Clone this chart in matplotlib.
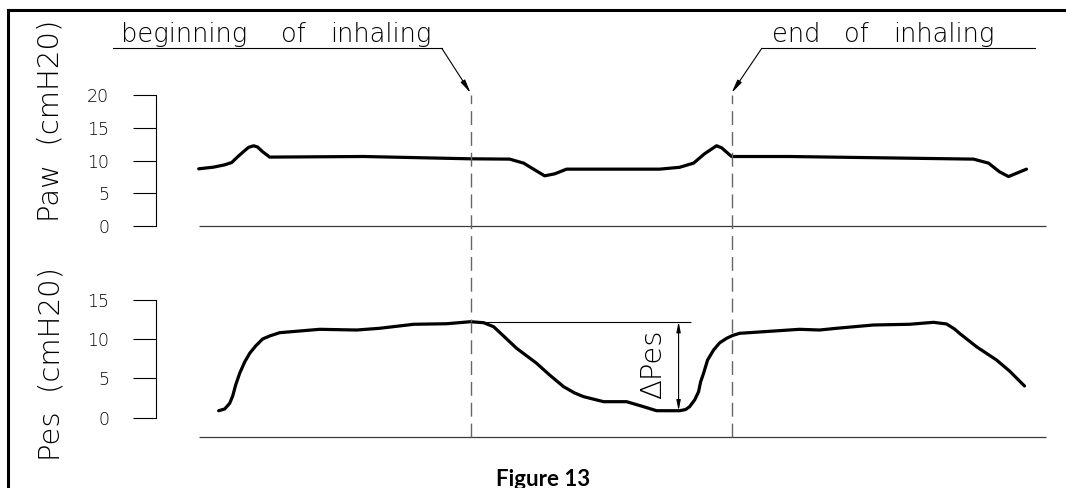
import matplotlib
matplotlib.use("Agg")
import matplotlib.pyplot as plt
from matplotlib.lines import Line2D

# ---- data (time in s, pressure in cmH2O) ----
paw_t = [0.00, 0.15, 0.26, 0.33, 0.39, 0.45, 0.50, 0.55, 0.59, 0.64, 0.71, 1.65,
         2.71, 3.11, 3.25, 3.36, 3.46, 3.56, 3.68, 4.61, 4.81, 4.95, 5.06, 5.18,
         5.23, 5.33, 5.91, 7.75, 7.90, 8.01, 8.10, 8.28]
paw_v = [8.73, 8.99, 9.34, 9.69, 10.57, 11.38, 12.02, 12.25, 12.05, 11.33, 10.52, 10.61,
         10.26, 10.21, 9.60, 8.58, 7.66, 7.96, 8.68, 8.68, 8.96, 9.60, 11.03, 12.25,
         11.94, 10.61, 10.61, 10.21, 9.60, 8.27, 7.55, 8.68]

pes_t = [0.20, 0.26, 0.31, 0.34, 0.37, 0.41, 0.46, 0.51, 0.57, 0.64, 0.71, 0.81,
         1.21, 1.58, 1.81, 2.15, 2.48, 2.72, 2.85, 2.95, 3.06, 3.18, 3.38, 3.51,
         3.65, 3.76, 3.85, 4.05, 4.28, 4.45, 4.58, 4.81, 4.87, 4.91, 4.96, 5.00,
         5.02, 5.05, 5.09, 5.15, 5.21, 5.28, 5.34, 5.41, 6.01, 6.21, 6.38, 6.75,
         7.11, 7.35, 7.48, 7.56, 7.61, 7.78, 7.98, 8.11, 8.26]
pes_v = [0.89, 1.11, 1.83, 2.76, 4.17, 5.66, 7.10, 8.20, 9.14, 10.03, 10.41, 10.83,
         11.26, 11.17, 11.39, 11.90, 11.97, 12.23, 12.10, 11.59, 10.28, 8.84, 6.93, 5.44,
         3.95, 3.15, 2.68, 2.04, 2.04, 1.40, 0.89, 0.89, 1.04, 1.40, 2.25, 3.31,
         4.55, 5.66, 7.35, 8.62, 9.53, 10.11, 10.47, 10.75, 11.26, 11.17, 11.39, 11.81,
         11.90, 12.15, 11.94, 11.30, 10.75, 9.04, 7.35, 5.95, 4.04]

inhale_start = 2.72
inhale_end = 5.33
t_end = 8.47

paw_ticks = [0, 5, 10, 15, 20]
pes_ticks = [0, 5, 10, 15]

CAD = dict(family="DejaVu Sans", fontweight="light")

W, H = 1066, 488
fig = plt.figure(figsize=(W / 100, H / 100), dpi=100)


def fx(px):
    return px / W


def fy(py):
    return 1 - py / H


x_left, x_right = 156, 1045.5
t_lo = -(198.7 - x_left) / 100

ax_paw = fig.add_axes([fx(x_left), fy(226), fx(x_right - x_left), (226 - 95) / H])
ax_pes = fig.add_axes([fx(x_left), fy(436.7), fx(x_right - x_left), (436.7 - 226) / H])

pes_lo = -(436.7 - 417.7) / 7.85
pes_hi = (417.7 - 226) / 7.85

for ax, ticks, lo, hi in [(ax_paw, paw_ticks, 0, 20), (ax_pes, pes_ticks, pes_lo, pes_hi)]:
    ax.set_xlim(t_lo, t_end)
    ax.set_ylim(lo, hi)
    ax.patch.set_visible(False)
    for s in ["top", "right", "bottom"]:
        ax.spines[s].set_visible(False)
    ax.spines["left"].set_bounds(ticks[0], ticks[-1])
    ax.spines["left"].set_linewidth(0.8)
    ax.set_xticks([])
    ax.set_yticks(ticks)
    ax.set_yticklabels([str(v) for v in ticks], fontsize=12.5, **CAD)
    ax.tick_params(axis="y", direction="out", length=16.8, width=0.8, pad=17)
    ax.hlines(lo, 0, t_end, color="#3a3a3a", lw=0.9, clip_on=False)

for ax, t, v in [(ax_paw, paw_t, paw_v), (ax_pes, pes_t, pes_v)]:
    ax.plot(t, v, color="black", lw=2.3, solid_capstyle="round",
            solid_joinstyle="round")

# dashed markers, running from the top panel down to the lower baseline
ext = (436.7 - 95) / (436.7 - 226)
for t in [inhale_start, inhale_end]:
    ax_pes.axvline(t, ymin=0, ymax=ext, clip_on=False, color="#666666", lw=1.0,
                   dashes=(10, 5))

# delta Pes
i_pk = pes_v.index(max(pes_v[:25]))
pk = pes_v[i_pk]
mn = min(pes_v[:35])
ax_pes.hlines(pk, pes_t[i_pk], 4.92, color="black", lw=0.8)
ax_pes.annotate("", xy=(4.80, mn), xytext=(4.80, pk),
                arrowprops=dict(arrowstyle="<|-|>,head_length=0.6,head_width=0.12",
                                lw=0.8, color="black", shrinkA=0, shrinkB=0))
ax_pes.text(4.55, (pk + mn) / 2 + 0.2, "ΔPes", rotation=90, ha="center", va="center",
            fontsize=21, **CAD)

# annotations with leaders
lead = dict(arrowstyle="-|>,head_length=0.8,head_width=0.15", lw=0.8, color="black",
            shrinkA=0, shrinkB=0)
for word, px in [("beginning", 120.5), ("of", 280.6), ("inhaling", 330.6),
                 ("end", 772), ("of", 843.8), ("inhaling", 893)]:
    fig.text(fx(px), fy(41.7), word, ha="left", va="baseline", fontsize=18.5, **CAD)

fig.add_artist(Line2D([fx(112.6), fx(441.8)], [fy(48.3), fy(48.3)], color="black", lw=0.8))
ax_pes.annotate("", xy=(inhale_start, fy(93)), xycoords=("data", "figure fraction"),
                xytext=(fx(441.8), fy(48.3)), textcoords="figure fraction",
                arrowprops=lead, annotation_clip=False)

fig.add_artist(Line2D([fx(761.8), fx(1035)], [fy(48.3), fy(48.3)], color="black", lw=0.8))
ax_pes.annotate("", xy=(inhale_end, fy(93)), xycoords=("data", "figure fraction"),
                xytext=(fx(761.8), fy(48.3)), textcoords="figure fraction",
                arrowprops=lead, annotation_clip=False)

# axis titles
fig.text(fx(51), fy(121), "Paw  (cmH20)", rotation=90, ha="center", va="center",
         fontsize=21, **CAD)
fig.text(fx(52), fy(364), "Pes  (cmH20)", rotation=90, ha="center", va="center",
         fontsize=21, **CAD)

# frame
fig.add_artist(Line2D([fx(8), 1], [fy(10), fy(10)], color="black", lw=2.2))
fig.add_artist(Line2D([fx(8), fx(8)], [fy(10), 0], color="black", lw=2.2))

fig.text(fx(543), fy(469), "Figure 13", ha="center", va="top", fontsize=16,
         fontweight="bold", family="Lato")

fig.savefig("out.png", dpi=100)
